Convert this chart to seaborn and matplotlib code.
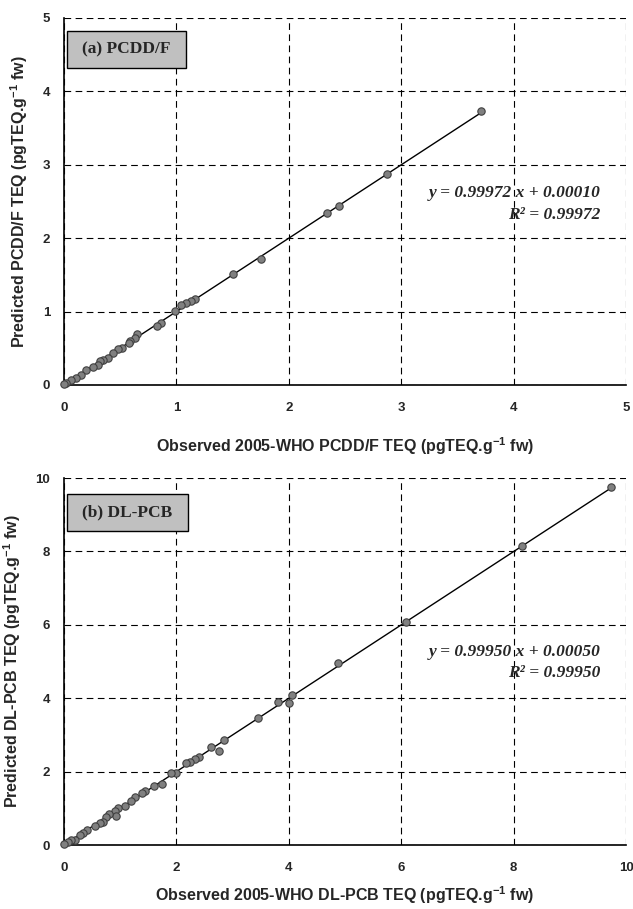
import numpy as np
import pandas as pd
import matplotlib
matplotlib.use("Agg")
import matplotlib.pyplot as plt
from matplotlib.patches import Rectangle
import seaborn as sns

# ---- data ----
pcdd_obs = [3.71, 2.87, 2.45, 2.34, 1.75, 1.50, 1.17, 1.13, 1.09, 1.04, 0.985,
            0.86, 0.83, 0.65, 0.63, 0.59, 0.58, 0.52, 0.48, 0.44, 0.39, 0.35,
            0.32, 0.30, 0.26, 0.20, 0.15, 0.11, 0.065, 0.02, 0.0]
pcdd_pred = [3.73, 2.87, 2.44, 2.34, 1.72, 1.51, 1.17, 1.15, 1.11, 1.09, 1.01,
             0.85, 0.80, 0.69, 0.64, 0.60, 0.57, 0.50, 0.49, 0.43, 0.37, 0.34,
             0.32, 0.27, 0.25, 0.20, 0.14, 0.10, 0.07, 0.03, 0.01]

pcb_obs = [9.73, 8.15, 6.09, 4.87, 4.05, 4.01, 3.81, 3.45, 2.84, 2.76, 2.62,
           2.40, 2.33, 2.25, 2.18, 1.99, 1.91, 1.74, 1.60, 1.44, 1.38, 1.26,
           1.20, 1.08, 0.96, 0.90, 0.92, 0.81, 0.75, 0.69, 0.64, 0.55, 0.41,
           0.34, 0.28, 0.19, 0.13, 0.07, 0.01]
pcb_pred = [9.75, 8.15, 6.08, 4.96, 4.09, 3.88, 3.90, 3.47, 2.86, 2.55, 2.66,
            2.39, 2.34, 2.27, 2.23, 1.97, 1.95, 1.66, 1.61, 1.47, 1.41, 1.30,
            1.21, 1.06, 1.00, 0.94, 0.79, 0.85, 0.77, 0.64, 0.59, 0.53, 0.41,
            0.34, 0.27, 0.15, 0.14, 0.07, 0.02]

panels = [
    dict(obs=pcdd_obs, pred=pcdd_pred, slope=0.99972, icpt=0.00010, r2="0.99972",
         tag="(a) PCDD/F", lim=5, ticks=[0, 1, 2, 3, 4, 5],
         xlab="Observed 2005-WHO PCDD/F TEQ (pgTEQ.g$^{-1}$ fw)",
         ylab="Predicted PCDD/F TEQ (pgTEQ.g$^{-1}$ fw)",
         eq_y=(0.523, 0.463), tag_box=(0.005, 0.864, 0.212, 0.101), xpad=15.5),
    dict(obs=pcb_obs, pred=pcb_pred, slope=0.99950, icpt=0.00050, r2="0.99950",
         tag="(b) DL-PCB", lim=10, ticks=[0, 2, 4, 6, 8, 10],
         xlab="Observed 2005-WHO DL-PCB TEQ (pgTEQ.g$^{-1}$ fw)",
         ylab="Predicted DL-PCB TEQ (pgTEQ.g$^{-1}$ fw)",
         eq_y=(0.526, 0.469), tag_box=(0.005, 0.856, 0.215, 0.100), xpad=8),
]

sns.set_style("white")
plt.rcParams["font.family"] = ["Liberation Sans", "DejaVu Sans"]
plt.rcParams["mathtext.fontset"] = "custom"
plt.rcParams["mathtext.rm"] = "Liberation Sans:bold"
plt.rcParams["mathtext.it"] = "Liberation Sans:bold"
plt.rcParams["mathtext.bf"] = "Liberation Sans:bold"
plt.rcParams["mathtext.default"] = "rm"

fig = plt.figure(figsize=(6.33, 9.09), dpi=100)
boxes = [[0.101, 0.5765, 0.888, 0.4037], [0.101, 0.0704, 0.888, 0.4037]]

for p, box in zip(panels, boxes):
    ax = fig.add_axes(box)
    df = pd.DataFrame({"obs": p["obs"], "pred": p["pred"]})
    xs = np.array([0, max(p["obs"])])
    ax.plot(xs, p["slope"] * xs + p["icpt"], color="black", lw=1, zorder=2)
    sns.scatterplot(data=df, x="obs", y="pred", ax=ax, color="#808080",
                    edgecolor="#404040", linewidth=0.8, s=28, zorder=3,
                    clip_on=False)
    ax.set_xlim(0, p["lim"])
    ax.set_ylim(0, p["lim"])
    ax.set_xticks(p["ticks"])
    ax.set_yticks(p["ticks"])
    ax.grid(True, color="black", ls=(0, (6, 4)), lw=0.8)
    ax.set_axisbelow(True)
    for s in ["top", "right"]:
        ax.spines[s].set_visible(False)
    for s in ["left", "bottom"]:
        ax.spines[s].set_color("black")
        ax.spines[s].set_linewidth(1.2)
    ax.tick_params(direction="out", length=3, width=1, color="black",
                   labelsize=9.5)
    ax.tick_params(axis="x", pad=9)
    ax.tick_params(axis="y", pad=7)
    for lbl in ax.get_xticklabels() + ax.get_yticklabels():
        lbl.set_fontweight("bold")
    ax.set_xlabel(p["xlab"], fontsize=11.5, fontweight="bold",
                  labelpad=p["xpad"])
    ax.set_ylabel(p["ylab"], fontsize=11.5, fontweight="bold", labelpad=9)

    ax.text(0.955, p["eq_y"][0], f"y = {p['slope']:.5f} x + {p['icpt']:.5f}",
            transform=ax.transAxes, ha="right", va="center", fontsize=12.5,
            family="Liberation Serif", fontweight="bold", style="italic")
    ax.text(0.955, p["eq_y"][1], f"R² = {p['r2']}",
            transform=ax.transAxes, ha="right", va="center", fontsize=12.5,
            family="Liberation Serif", fontweight="bold", style="italic")
    bx, by, bw, bh = p["tag_box"]
    ax.add_patch(Rectangle((bx, by), bw, bh, transform=ax.transAxes,
                           fc="#c0c0c0", ec="black", lw=1, zorder=4))
    ax.text(bx + bw / 2, by + bh / 2, p["tag"], transform=ax.transAxes,
            ha="center", va="center", fontsize=12.5, family="Liberation Serif",
            fontweight="bold", zorder=5)

fig.savefig("out.png", dpi=100)
